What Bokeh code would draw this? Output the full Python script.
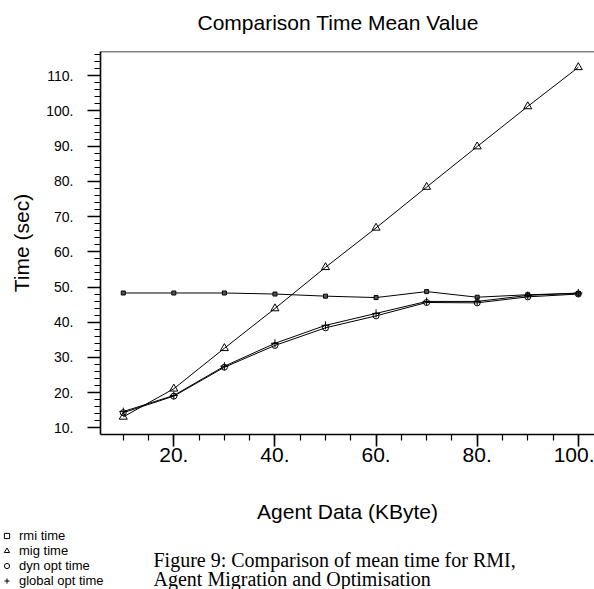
from bokeh.plotting import figure
from bokeh.layouts import column
from bokeh.models import (SingleIntervalTicker, PrintfTickFormatter, Label, Legend,
                          LegendItem, Span, Range1d)
from bokeh.embed import file_html
from bokeh.resources import INLINE

# ---- data ----
agent_kbyte = [10, 20, 30, 40, 50, 60, 70, 80, 90, 100]
rmi_time = [48.3, 48.3, 48.3, 48.0, 47.4, 47.0, 48.7, 47.1, 47.8, 48.2]
mig_time = [13.1, 21.1, 32.6, 43.9, 55.6, 66.8, 78.4, 89.9, 101.3, 112.4]
dyn_opt_time = [14.3, 19.0, 27.2, 33.4, 38.4, 41.8, 45.6, 45.5, 47.2, 48.0]
global_opt_time = [14.6, 19.2, 27.5, 34.0, 39.1, 42.5, 45.9, 45.9, 47.6, 48.3]
series_names = ["rmi time", "mig time", "dyn opt time", "global opt time"]

title_text = "Comparison Time Mean Value"
x_label = "Agent Data (KByte)"
y_label = "Time (sec)"
caption_lines = ["Figure 9: Comparison of mean time for RMI,",
                 "Agent Migration and Optimisation"]

# ---- layout constants ----
W, H = 594, 589
H0 = 40                       # top strip (title)
H1 = 488                      # main figure
H2 = H - H0 - H1              # bottom strip (legend + caption)
FL, FR, FT, FB = 100, 594, 51, 434
X0, X1 = 5.5, 103.2
Y0, Y1 = 8.1, 116.9
SANS = "Liberation Sans"
SERIF = "Liberation Serif"


def strip(height):
    f = figure(width=W, height=height, output_backend="svg", toolbar_location=None,
               x_range=Range1d(0, W), y_range=Range1d(height, 0),
               x_axis_type=None, y_axis_type=None,
               min_border_left=0, min_border_right=0,
               min_border_top=0, min_border_bottom=0)
    f.frame_align = False
    f.outline_line_color = None
    f.grid.visible = False
    f.background_fill_color = "white"
    f.border_fill_color = "white"
    return f


# ---- top strip: title ----
p0 = strip(H0)
p0.add_layout(Label(x=197, y=22, text=title_text, text_align="left",
                    text_baseline="middle", text_font=SANS, text_font_size="21px",
                    text_color="black"))

# ---- main plot ----
p = figure(width=W, height=H1, output_backend="svg", toolbar_location=None,
           x_range=Range1d(X0, X1), y_range=Range1d(Y0, Y1),
           min_border_left=FL, min_border_right=W - FR,
           min_border_top=FT - H0, min_border_bottom=H0 + H1 - FB)
p.frame_align = False
p.outline_line_color = None
p.grid.visible = False
p.background_fill_color = "white"
p.border_fill_color = "white"

# x axis
p.xaxis.ticker = SingleIntervalTicker(interval=20, num_minor_ticks=4)
p.xaxis.formatter = PrintfTickFormatter(format="%d.")
p.xaxis.major_tick_in = 0
p.xaxis.major_tick_out = 12
p.xaxis.minor_tick_in = 0
p.xaxis.minor_tick_out = 6
p.xaxis.major_label_standoff = 1
p.xaxis.major_label_text_font = SANS
p.xaxis.major_label_text_font_size = "21px"
p.xaxis.axis_label = x_label
p.xaxis.axis_label_text_font = SANS
p.xaxis.axis_label_text_font_size = "21px"
p.xaxis.axis_label_text_font_style = "normal"
p.xaxis.axis_label_standoff = 35

# y axis
p.yaxis.ticker = SingleIntervalTicker(interval=10, num_minor_ticks=5)
p.yaxis.formatter = PrintfTickFormatter(format="%d.")
p.yaxis.major_tick_in = 0
p.yaxis.major_tick_out = 13
p.yaxis.minor_tick_in = 0
p.yaxis.minor_tick_out = 6
p.yaxis.major_label_standoff = 14
p.yaxis.major_label_text_font = SANS
p.yaxis.major_label_text_font_size = "14px"
p.yaxis.axis_label = y_label
p.yaxis.axis_label_text_font = SANS
p.yaxis.axis_label_text_font_size = "21px"
p.yaxis.axis_label_text_font_style = "normal"
p.yaxis.axis_label_standoff = 10

for ax in (p.xaxis, p.yaxis):
    ax.axis_line_width = 1.6
    ax.axis_line_color = "black"
    ax.major_tick_line_width = 1.6
    ax.major_tick_line_color = "black"
    ax.minor_tick_line_width = 1.2
    ax.minor_tick_line_color = "black"
    ax.major_label_text_color = "black"
    ax.axis_label_text_color = "black"

p.add_layout(Span(location=Y1, dimension="width", line_color="black", line_width=1.6))

# ---- series ----
lw = 1
p.line(agent_kbyte, rmi_time, line_color="black", line_width=lw)
p.line(agent_kbyte, mig_time, line_color="black", line_width=lw)
p.line(agent_kbyte, dyn_opt_time, line_color="black", line_width=lw)
p.line(agent_kbyte, global_opt_time, line_color="black", line_width=lw)

p.scatter(agent_kbyte, rmi_time, marker="square", size=4,
          line_color="black", fill_color="#555555", line_width=1)
p.scatter(agent_kbyte, mig_time, marker="triangle", size=8,
          line_color="black", fill_color=None, line_width=1)
p.scatter(agent_kbyte, dyn_opt_time, marker="circle", size=6,
          line_color="black", fill_color=None, line_width=1)
p.scatter(agent_kbyte, global_opt_time, marker="cross", size=8,
          line_color="black", line_width=1)

# ---- bottom strip: legend + caption ----
p2 = strip(H2)

# hidden one-point renderers that only supply the legend keys
l_rmi = p2.scatter(agent_kbyte[:1], rmi_time[:1], marker="square", size=4,
                   line_color="black", fill_color=None, visible=False)
l_mig = p2.scatter(agent_kbyte[:1], mig_time[:1], marker="triangle", size=6,
                   line_color="black", fill_color=None, visible=False)
l_dyn = p2.scatter(agent_kbyte[:1], dyn_opt_time[:1], marker="circle", size=5,
                   line_color="black", fill_color=None, visible=False)
l_glob = p2.scatter(agent_kbyte[:1], global_opt_time[:1], marker="cross", size=7,
                    line_color="black", visible=False)

legend = Legend(items=[LegendItem(label=series_names[0], renderers=[l_rmi]),
                       LegendItem(label=series_names[1], renderers=[l_mig]),
                       LegendItem(label=series_names[2], renderers=[l_dyn]),
                       LegendItem(label=series_names[3], renderers=[l_glob])],
                location=(0, 1), orientation="vertical",
                padding=0, margin=0, spacing=0,
                glyph_height=15, glyph_width=13, label_height=15,
                label_standoff=6, label_text_font=SANS,
                label_text_font_size="13px", label_text_color="black",
                border_line_color=None, background_fill_alpha=0)
p2.add_layout(legend, "center")

top2 = H0 + H1
p2.add_layout(Label(x=153, y=559 - top2, text=caption_lines[0], text_align="left",
                    text_baseline="alphabetic", text_font=SERIF,
                    text_font_size="20px", text_color="black"))
p2.add_layout(Label(x=153, y=578 - top2, text=caption_lines[1], text_align="left",
                    text_baseline="alphabetic", text_font=SERIF,
                    text_font_size="20px", text_color="black"))

layout = column(p0, p, p2, spacing=0)
open("out.html", "w").write(file_html(layout, INLINE))
